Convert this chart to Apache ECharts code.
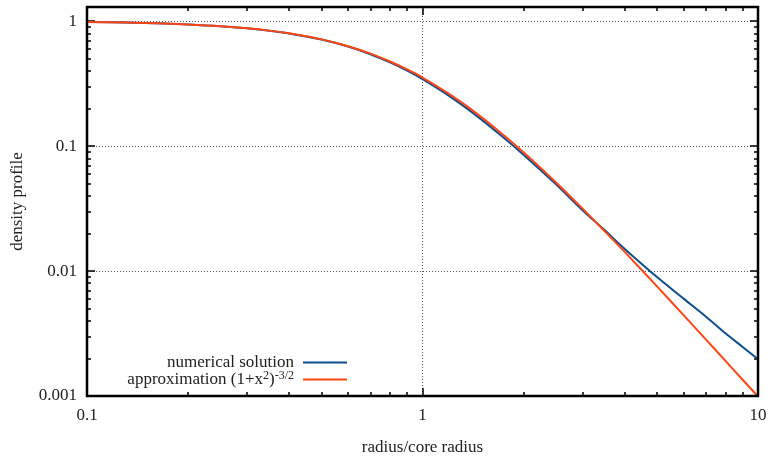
<!DOCTYPE html>
<html lang="en">
<head>
    <meta charset="UTF-8">
    <title>density profile</title>
    <style>
        html, body { margin: 0; padding: 0; background: #fff; }
        #main { width: 777px; height: 456px; }
    </style>
</head>
<body>
    <div id="main"></div>
</body>
<script src="https://cdn.jsdelivr.net/npm/echarts@6/dist/echarts.min.js"></script>
<script>
    // values
    var radius = [0.1, 0.13, 0.17, 0.2, 0.25, 0.3, 0.35, 0.4, 0.5, 0.6, 0.7, 0.8, 0.9, 1,
        1.2, 1.4, 1.7, 2, 2.5, 3, 3.5, 4, 5, 6, 7, 8, 9, 10]
    var numerical = [0.985, 0.975, 0.958, 0.943, 0.912, 0.877, 0.840, 0.799, 0.713, 0.627, 0.544, 0.468, 0.402, 0.344,
        0.253, 0.188, 0.124, 0.0855, 0.0495, 0.0307, 0.0211, 0.0151, 0.00895, 0.00602, 0.00431, 0.00318, 0.00247, 0.00197]
    var approx = [0.985, 0.975, 0.958, 0.943, 0.913, 0.879, 0.841, 0.800, 0.716, 0.631, 0.550, 0.476, 0.411, 0.354,
        0.262, 0.196, 0.130, 0.0894, 0.0512, 0.0316, 0.0207, 0.0143, 0.00754, 0.00444, 0.00283, 0.00191, 0.00135, 0.00099]
    var seriesNames = ['numerical solution', 'approximation (1+x^2)^(-3/2)']
    var xRange = [0.1, 10]
    var yRange = [0.001, 1.3]

    var font = 'Liberation Serif'
    var fontSize = 17
    var textColor = '#222'

    function pairs(xs, ys) {
        return xs.map(function (x, i) { return [x, ys[i]] })
    }
    // log10 positions of ticks k*10^n between lo and hi
    function logTicks(lo, hi, minor) {
        var out = []
        for (var n = Math.floor(Math.log10(lo)); n <= Math.ceil(Math.log10(hi)); n++) {
            for (var k = 1; k <= 9; k++) {
                if ((k === 1) === minor) continue
                var v = k * Math.pow(10, n)
                if (v >= lo * 0.999 && v <= hi * 1.001) out.push(Math.log10(v))
            }
        }
        return out
    }
    function helperAxis(pos, lo, hi, minor, len) {
        return {
            type: 'value',
            position: pos,
            min: Math.log10(lo),
            max: Math.log10(hi),
            axisLine: { show: false, onZero: false },
            axisTick: { show: true, inside: true, length: len, customValues: logTicks(lo, hi, minor),
                lineStyle: { color: '#000', width: 1.5 } },
            axisLabel: { show: false },
            splitLine: { show: false }
        }
    }

    var gridLine = { show: true, lineStyle: { color: '#555', width: 1, type: [1, 2] } }

    var main = echarts.init(document.getElementById('main'))
    var option = {
        animation: false,
        textStyle: { fontFamily: font },
        grid: {
            left: 87, right: 19, top: 7, bottom: 60,
            outerBoundsMode: 'none',
            containLabel: false,
            show: true, borderColor: '#000', borderWidth: 2.5, backgroundColor: 'transparent',
            z: 5
        },
        legend: {
            data: seriesNames,
            orient: 'vertical',
            align: 'right',
            right: 430,
            top: 352.5,
            padding: 0,
            itemGap: -3,
            itemWidth: 44,
            itemHeight: 2,
            icon: 'rect',
            formatter: function (name) {
                if (name === seriesNames[1]) return 'approximation (1+x{sup|2}){sup|-3/2}'
                return name
            },
            textStyle: {
                fontFamily: font, fontSize: fontSize, color: textColor, lineHeight: 20,
                padding: [0, 4, 0, 0],
                rich: {
                    sup: { fontFamily: font, fontSize: 12, color: textColor, verticalAlign: 'top', lineHeight: 8 }
                }
            }
        },
        xAxis: [
            {
                type: 'log',
                logBase: 10,
                min: xRange[0],
                max: xRange[1],
                name: 'radius/core radius',
                nameLocation: 'middle',
                nameGap: 43,
                nameTextStyle: { fontFamily: font, fontSize: fontSize, color: textColor },
                axisLine: { show: false, onZero: false },
                axisTick: { inside: true, length: 8, lineStyle: { color: '#000', width: 1.5 } },
                axisLabel: { fontFamily: font, fontSize: fontSize, color: textColor, margin: 11 },
                splitLine: gridLine
            },
            helperAxis('bottom', xRange[0], xRange[1], true, 4),
            helperAxis('top', xRange[0], xRange[1], false, 8),
            helperAxis('top', xRange[0], xRange[1], true, 4)
        ],
        yAxis: [
            {
                type: 'log',
                logBase: 10,
                min: yRange[0],
                max: yRange[1],
                name: 'density profile',
                nameLocation: 'middle',
                nameGap: 61,
                nameTextStyle: { fontFamily: font, fontSize: fontSize, color: textColor },
                axisLine: { show: false, onZero: false },
                axisTick: { inside: true, length: 8, lineStyle: { color: '#000', width: 1.5 } },
                axisLabel: { fontFamily: font, fontSize: fontSize, color: textColor, margin: 10, showMaxLabel: false },
                splitLine: gridLine
            },
            helperAxis('left', yRange[0], yRange[1], true, 4),
            helperAxis('right', yRange[0], yRange[1], false, 8),
            helperAxis('right', yRange[0], yRange[1], true, 4)
        ],
        series: [
            {
                name: seriesNames[0],
                type: 'line',
                xAxisIndex: 0,
                yAxisIndex: 0,
                data: pairs(radius, numerical),
                showSymbol: false,
                smooth: 0.3,
                color: '#0c4f8e',
                lineStyle: { width: 2 },
                z: 3
            },
            {
                name: seriesNames[1],
                type: 'line',
                xAxisIndex: 0,
                yAxisIndex: 0,
                data: pairs(radius, approx),
                showSymbol: false,
                smooth: 0.3,
                color: '#ff4514',
                lineStyle: { width: 2 },
                z: 4
            }
        ]
    }
    main.setOption(option)
</script>
</html>
